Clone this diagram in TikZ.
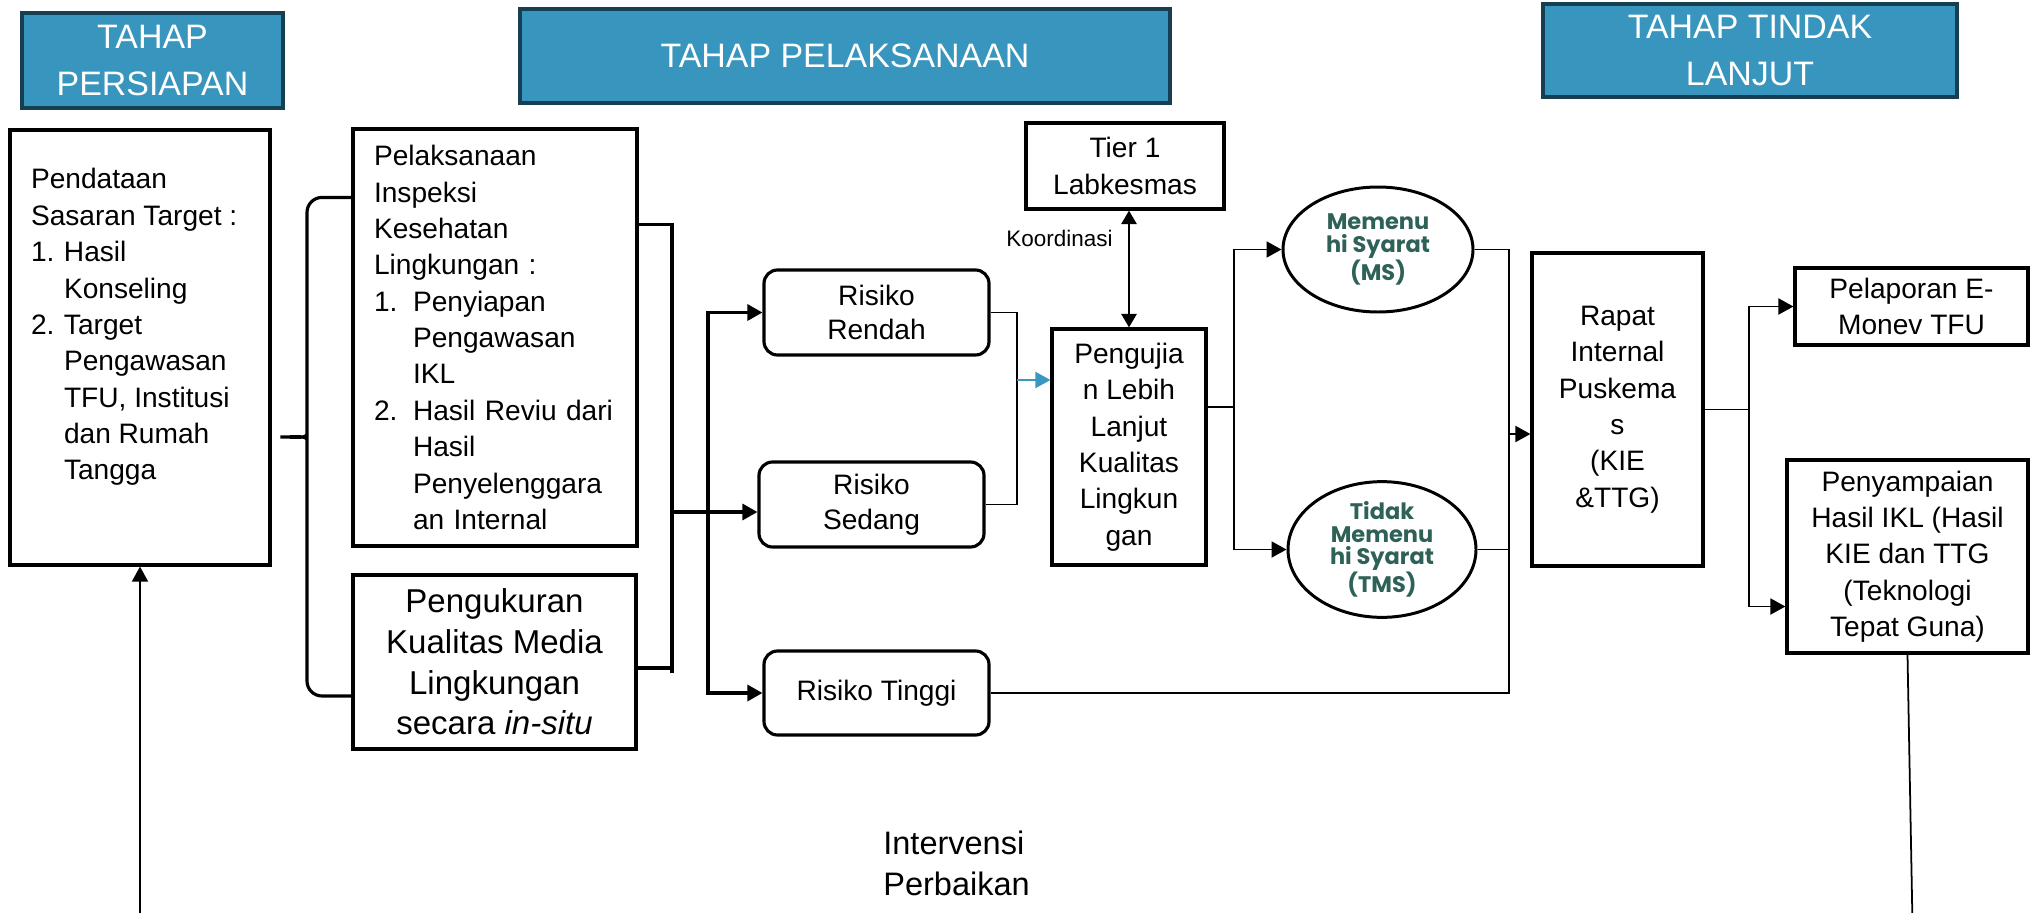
\documentclass[tikz,border=0pt]{standalone}
\usepackage{fontspec}
\setmainfont{Liberation Sans}
\newfontfamily\syaratfont{Poppins}
\usepackage{tikz}
\usetikzlibrary{arrows.meta,positioning,shapes.geometric}
\definecolor{phaseFill}{HTML}{3895BD}
\definecolor{phaseEdge}{HTML}{173F52}
\definecolor{resultCol}{HTML}{2E6157}
\definecolor{linkBlue}{HTML}{3A98C0}
\newcommand{\inum}[2]{\makebox[#1][l]{#2}}
\newcommand{\icont}[1]{\hspace*{#1}}

\begin{document}
\begin{tikzpicture}[
  phase/.style={draw=phaseEdge,fill=phaseFill,line width=2.2pt,text=white,
    align=center,inner sep=0pt,font=\fontsize{19.3}{26.6}\selectfont},
  box/.style={draw,line width=1.8pt,inner sep=0pt,align=center,
    font=\fontsize{16}{20.7}\selectfont},
  listbox/.style={box,align=left,inner xsep=0.42cm},
  riskbox/.style={box,rounded corners=0.27cm,minimum width=4.5cm,minimum height=1.7cm,
    font=\fontsize{16}{19.8}\selectfont},
  result/.style={ellipse,draw,line width=1.7pt,inner sep=0pt,align=center,
    text=resultCol,font=\syaratfont\bfseries\fontsize{12.8}{12.8}\selectfont},
  bracket/.style={line width=1.8pt},
  link/.style={line width=1.1pt},
  flow/.style={-{Triangle[length=0.3cm,width=0.32cm]},line width=1.8pt},
  thinflow/.style={-{Triangle[length=0.3cm,width=0.32cm]},line width=1.1pt},
  note/.style={inner sep=0pt,font=\fontsize{12.8}{15}\selectfont},
]
\useasboundingbox (0,0) rectangle (40.64,-18.24);

% phase headers
\node[phase,minimum width=5.22cm,minimum height=1.9cm] (persiapan) at (3.05,-1.21) {TAHAP\\PERSIAPAN};
\node[phase,minimum width=13cm,minimum height=1.88cm] (pelaksanaan) at (16.9,-1.12) {TAHAP PELAKSANAAN};
\node[phase,minimum width=8.28cm,minimum height=1.86cm] (tindaklanjut) at (35,-1.01) {TAHAP TINDAK\\LANJUT};

% persiapan
\node[box,minimum width=5.2cm,minimum height=8.7cm] (pendataan) at (2.8,-6.95)
  {\parbox[c][7.16cm][t]{4.36cm}{\raggedright
   Pendataan\\
   Sasaran Target :\\
   \inum{0.66cm}{1.}Hasil\\
   \icont{0.66cm}Konseling\\
   \inum{0.66cm}{2.}Target\\
   \icont{0.66cm}Pengawasan\\
   \icont{0.66cm}TFU, Institusi\\
   \icont{0.66cm}dan Rumah\\
   \icont{0.66cm}Tangga}};

% pelaksanaan
\node[listbox,text width=4.84cm,minimum height=8.34cm] (inspeksi) at (9.9,-6.75)
  {Pelaksanaan\\
   Inspeksi\\
   Kesehatan\\
   Lingkungan :\\
   \inum{0.78cm}{1.}Penyiapan\\
   \icont{0.78cm}Pengawasan\\
   \icont{0.78cm}IKL\\
   \inum{0.78cm}{2.}Hasil Reviu dari\\
   \icont{0.78cm}Hasil\\
   \icont{0.78cm}Penyelenggara\\
   \icont{0.78cm}an Internal};
\node[box,minimum width=5.66cm,minimum height=3.48cm,font=\fontsize{18.8}{23.2}\selectfont]
  (pengukuran) at (9.89,-13.24) {Pengukuran\\Kualitas Media\\Lingkungan\\secara \textit{in-situ}};

\node[riskbox] (rendah) at (17.53,-6.25) {Risiko\\Rendah};
\node[riskbox] (sedang) at (17.43,-10.09) {Risiko\\Sedang};
\node[riskbox,minimum height=1.68cm] (tinggi) at (17.53,-13.86) {Risiko Tinggi};

\node[box,minimum width=3.96cm,minimum height=1.72cm] (tier) at (22.5,-3.32) {Tier 1\\Labkesmas};
\node[box,minimum width=3.08cm,minimum height=4.72cm] (pengujian) at (22.58,-8.94)
  {Pengujia\\n Lebih\\Lanjut\\Kualitas\\Lingkun\\gan};

\node[result,minimum width=3.8cm,minimum height=2.5cm] (ms) at (27.56,-4.99) {Memenu\\hi Syarat\\(MS)};
\node[result,minimum width=3.76cm,minimum height=2.5cm] (tms) at (27.64,-10.99) {Tidak\\Memenu\\hi Syarat\\(TMS)};

% tindak lanjut
\node[box,minimum width=3.42cm,minimum height=6.26cm] (rapat) at (32.35,-8.19)
  {Rapat\\Internal\\Puskema\\s\\(KIE\\\&TTG)};
\node[box,minimum width=4.66cm,minimum height=1.54cm] (pelaporan) at (38.23,-6.13) {Pelaporan E-\\Monev TFU};
\node[box,minimum width=4.82cm,minimum height=3.86cm] (penyampaian) at (38.15,-11.13)
  {Penyampaian\\Hasil IKL (Hasil\\KIE dan TTG\\(Teknologi\\Tepat Guna)};

\node[note,anchor=west,align=left,font=\fontsize{18.5}{23.2}\selectfont] (intervensi) at (17.66,-17.26)
  {Intervensi\\Perbaikan};

% junction points
\coordinate (bracetip) at ([yshift=-1.79cm]pendataan.east);
\coordinate (split) at (13.44,-10.24);
\coordinate (fork) at (14.16,-10.24);
\coordinate (merge) at (20.34,-7.6);
\coordinate (branch) at (24.68,-8.14);
\coordinate (gather) at (30.18,-8.68);
\coordinate (report) at (34.98,-8.19);
\coordinate (loopL) at (2.8,-18.5);
\coordinate (loopR) at (38.25,-18.5);

% brace and bracket
\draw[bracket,rounded corners=0.3cm] ([yshift=-1.4cm]inspeksi.north west) -| (6.14,-8.5)
  .. controls (6.14,-8.7) and (5.8,-8.74) .. (bracetip)
  .. controls (5.8,-8.74) and (6.14,-8.78) .. (6.14,-8.98)
  |- ([yshift=-0.68cm]pengukuran.west);
\draw[bracket] ([yshift=-1.94cm]inspeksi.north east) -| (13.44,-13.46);
\draw[bracket] ([yshift=-0.12cm]pengukuran.east) -| (split);

% risk levels
\draw[flow] (split) -- (split -| sedang.west);
\draw[flow] (fork) |- (rendah.west);
\draw[flow] (fork) |- (tinggi.west);

\draw[link] (rendah.east) -| (merge) |- (sedang.east);
\draw[thinflow,draw=linkBlue,fill=linkBlue] (merge) -- (merge -| pengujian.west);

\draw[{Triangle[length=0.27cm,width=0.3cm]}-{Triangle[length=0.27cm,width=0.3cm]},line width=1.5pt]
  (pengujian.north) -- (pengujian.north |- tier.south)
  node[note,pos=0.76,left=0.3cm] {Koordinasi};

\draw[link] ([yshift=0.8cm]pengujian.east) -- (branch);
\draw[thinflow] (branch) |- (ms.west);
\draw[thinflow] (branch) |- (tms.west);

\draw[link] (ms.east) -| (gather);
\draw[link] (tms.east) -| (gather);
\draw[link] (tinggi.east) -| (gather);
\draw[thinflow] (gather) -- (gather -| rapat.west);

\draw[link] (rapat.east) -- (report);
\draw[thinflow] (report) |- (pelaporan.west);
\draw[thinflow] (report) |- ([yshift=-1cm]penyampaian.west);

% perbaikan loop
\draw[link,line width=1pt] (penyampaian.south) -- (loopR);
\draw[thinflow,line width=1pt] (loopL) -- (pendataan.south);

\end{tikzpicture}
\end{document}
